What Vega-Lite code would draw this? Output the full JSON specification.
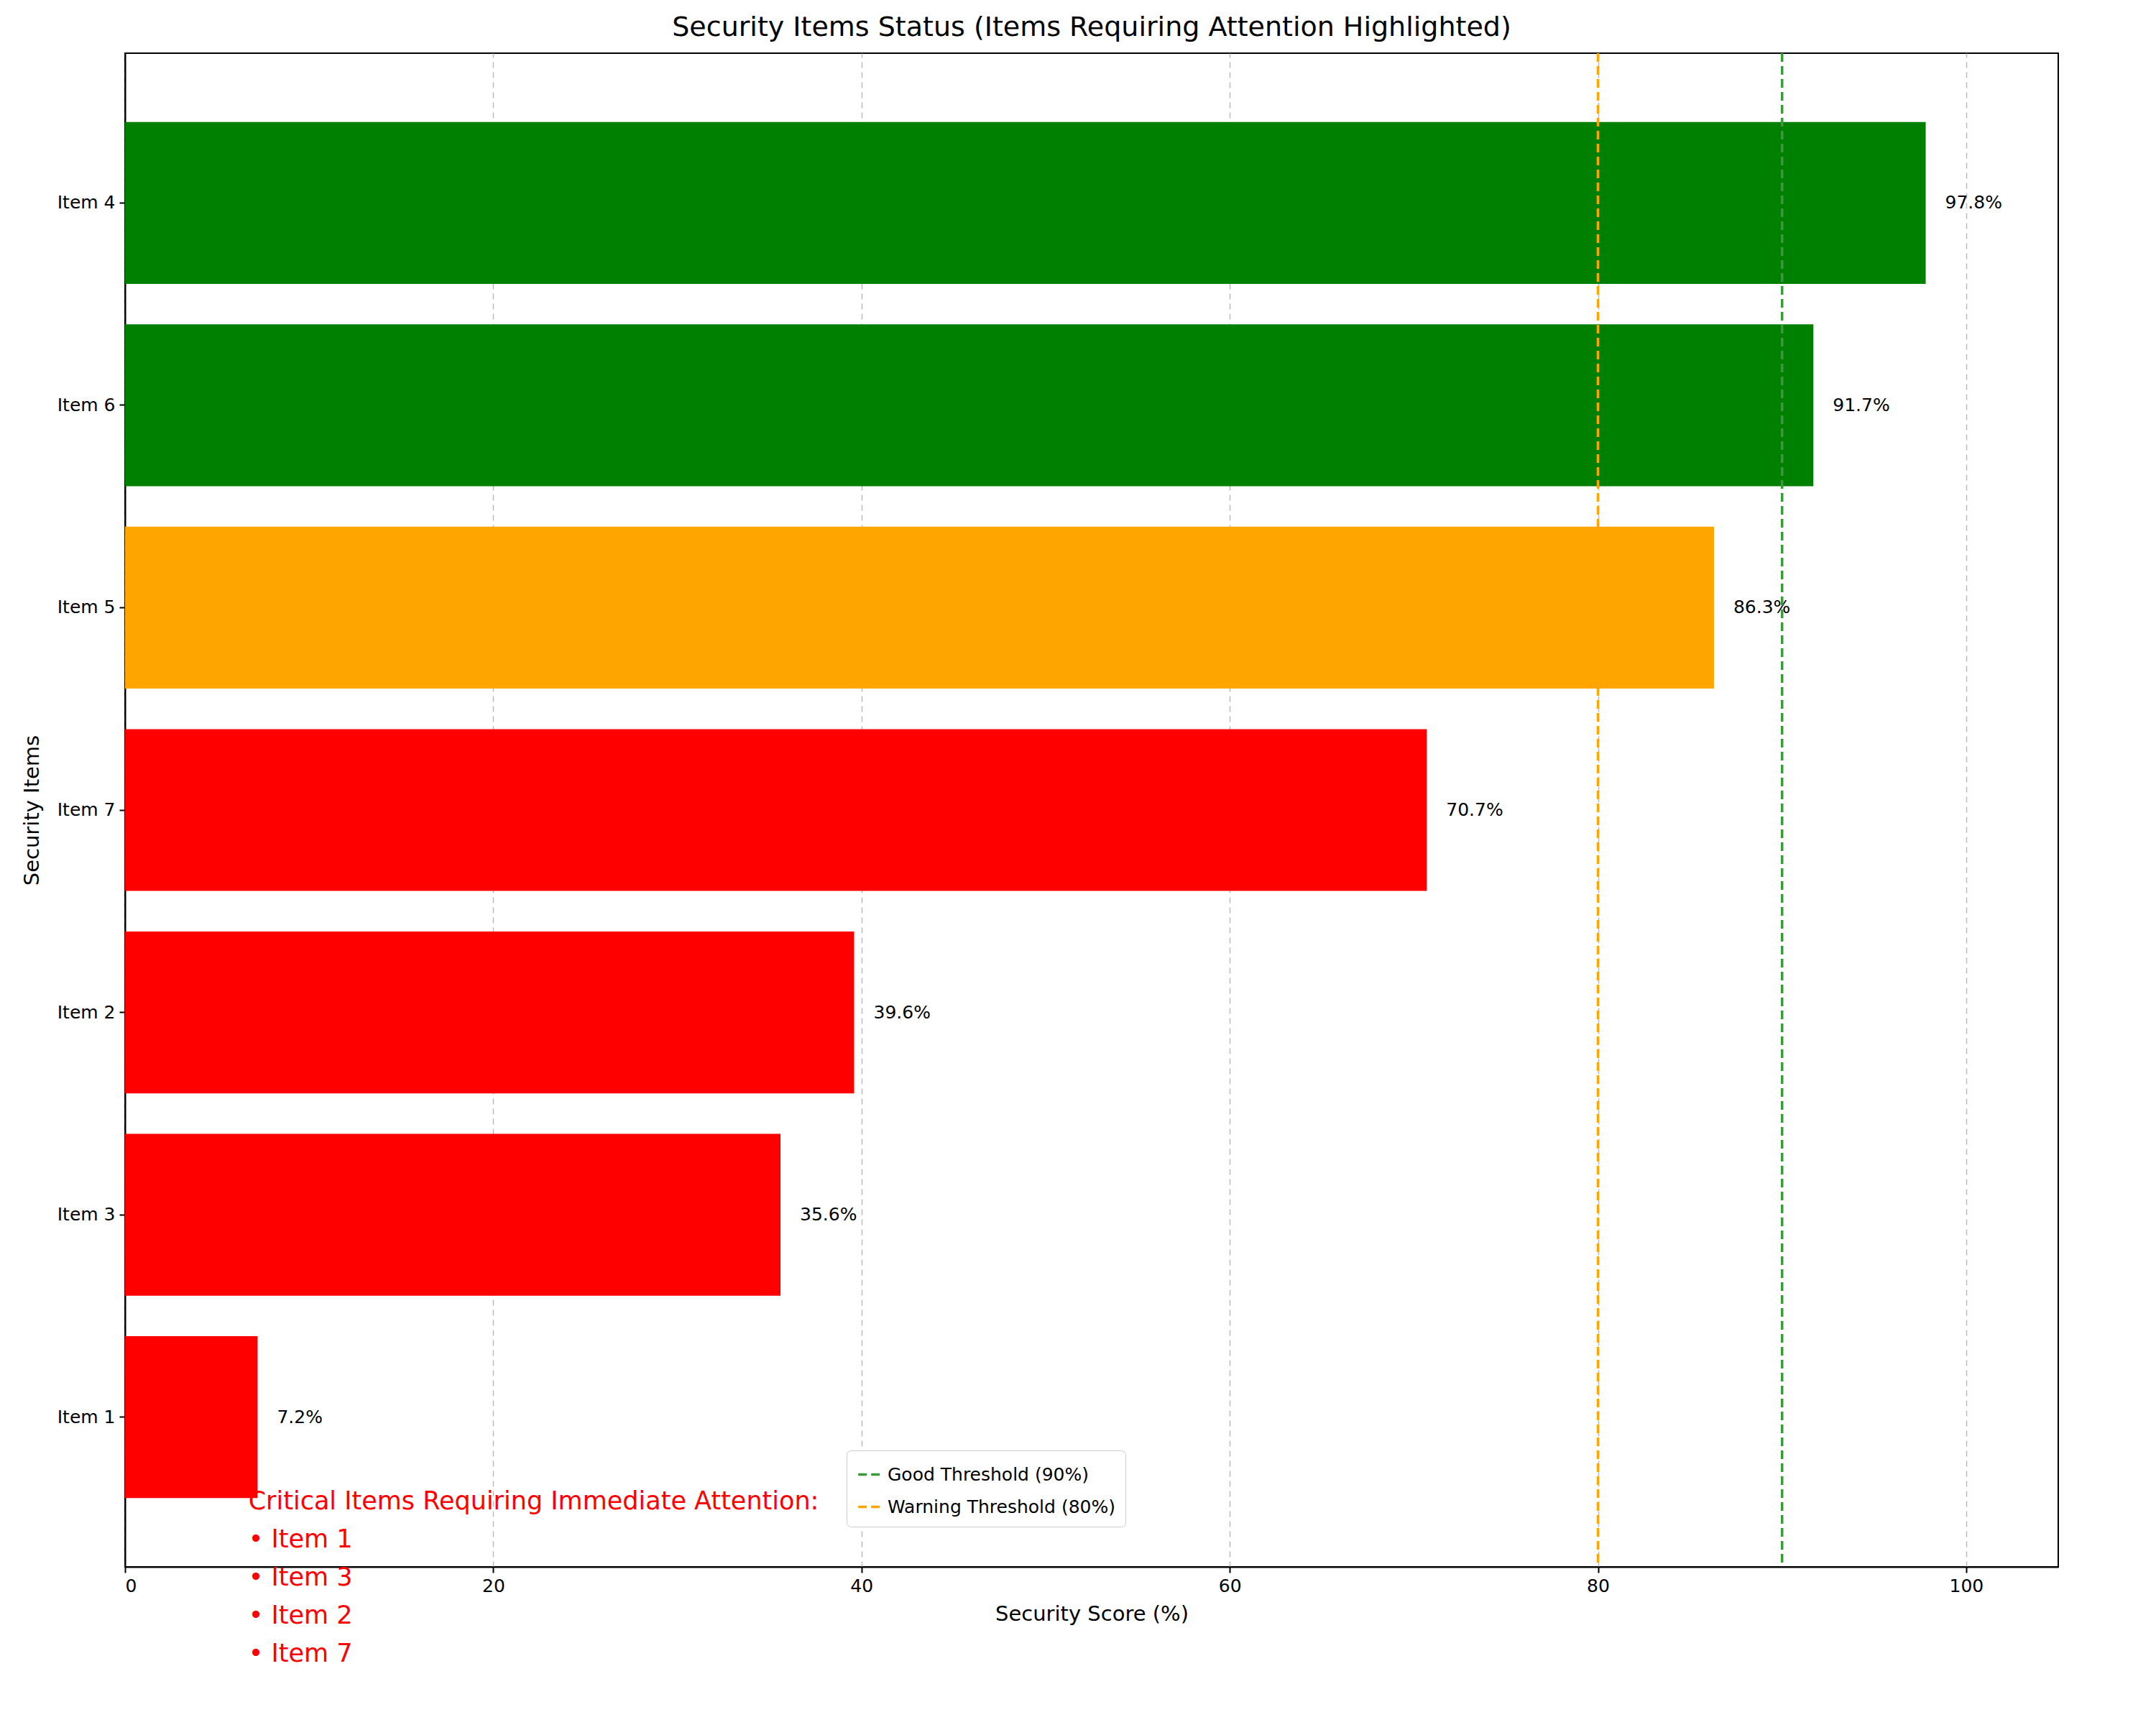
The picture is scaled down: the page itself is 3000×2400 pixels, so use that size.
{
  "$schema": "https://vega.github.io/schema/vega-lite/v6.json",
  "width": 2690,
  "height": 2106,
  "padding": {"left": 30, "top": 20, "right": 25, "bottom": 20},
  "background": "#ffffff",
  "config": {
    "font": "DejaVu Sans",
    "view": {"stroke": "#000000", "strokeWidth": 2},
    "axis": {"labelFontSize": 25, "titleFontSize": 29, "titleFontWeight": "normal", "labelColor": "#000000", "titleColor": "#000000", "domainColor": "#000000", "tickColor": "#000000", "tickSize": 8, "tickWidth": 2, "domainWidth": 2}
  },
  "title": {"text": "Security Items Status (Items Requiring Attention Highlighted)", "fontSize": 38, "fontWeight": "normal", "color": "#000000", "offset": 14},
  "layer": [
    {
      "data": {"values": [
        {"item": "Item 4", "score": 97.8, "label": "97.8%", "color": "#008000"},
        {"item": "Item 6", "score": 91.7, "label": "91.7%", "color": "#008000"},
        {"item": "Item 5", "score": 86.3, "label": "86.3%", "color": "#FFA500"},
        {"item": "Item 7", "score": 70.7, "label": "70.7%", "color": "#FF0000"},
        {"item": "Item 2", "score": 39.6, "label": "39.6%", "color": "#FF0000"},
        {"item": "Item 3", "score": 35.6, "label": "35.6%", "color": "#FF0000"},
        {"item": "Item 1", "score": 7.2, "label": "7.2%", "color": "#FF0000"}
      ]},
      "encoding": {
        "y": {"field": "item", "type": "nominal", "sort": ["Item 4", "Item 6", "Item 5", "Item 7", "Item 2", "Item 3", "Item 1"],
          "scale": {"paddingInner": 0.2, "paddingOuter": 0.34},
          "axis": {"title": "Security Items", "titlePadding": 20, "labelPadding": 6}},
        "x": {"field": "score", "type": "quantitative", "scale": {"domain": [0, 105], "nice": false},
          "axis": {"title": "Security Score (%)", "values": [0, 20, 40, 60, 80, 100], "grid": true, "gridDash": [8, 6], "gridColor": "#bbbbbb", "gridWidth": 1.5, "titlePadding": 12, "labelPadding": 6}}
      },
      "layer": [
        {"mark": {"type": "bar"}, "encoding": {"color": {"field": "color", "type": "nominal", "scale": null, "legend": null}}},
        {"mark": {"type": "text", "align": "left", "dx": 27, "fontSize": 25, "color": "#000000"},
          "encoding": {"text": {"field": "label", "type": "nominal"}}},
        {"transform": [{"filter": "datum.item == 'Item 1'"}],
          "mark": {"type": "text", "align": "left", "baseline": "top", "yOffset": 100, "fontSize": 35, "lineHeight": 53, "color": "#FF0000",
            "text": ["Critical Items Requiring Immediate Attention:", "• Item 1", "• Item 3", "• Item 2", "• Item 7"]},
          "encoding": {"x": {"datum": 6.7}, "text": {"value": ["Critical Items Requiring Immediate Attention:", "• Item 1", "• Item 3", "• Item 2", "• Item 7"]}}}
      ]
    },
    {
      "data": {"values": [
        {"label": "Good Threshold (90%)", "value": 90},
        {"label": "Warning Threshold (80%)", "value": 80}
      ]},
      "mark": {"type": "rule", "strokeDash": [12, 6], "strokeWidth": 3.5},
      "encoding": {
        "x": {"field": "value", "type": "quantitative"},
        "color": {"field": "label", "type": "nominal",
          "scale": {"domain": ["Good Threshold (90%)", "Warning Threshold (80%)"], "range": ["#3a9a3a", "#FFA500"]},
          "legend": {"title": null, "orient": "none", "legendX": 1004, "legendY": 1944, "labelFontSize": 25, "labelLimit": 0, "symbolType": "stroke", "symbolDash": [12, 6], "symbolStrokeWidth": 3.5, "symbolSize": 1200, "fillColor": "#ffffff", "strokeColor": "#cccccc", "padding": 14, "cornerRadius": 6, "rowPadding": 12, "labelColor": "#000000"}}
      }
    }
  ],
  "resolve": {"scale": {"color": "independent"}}
}
